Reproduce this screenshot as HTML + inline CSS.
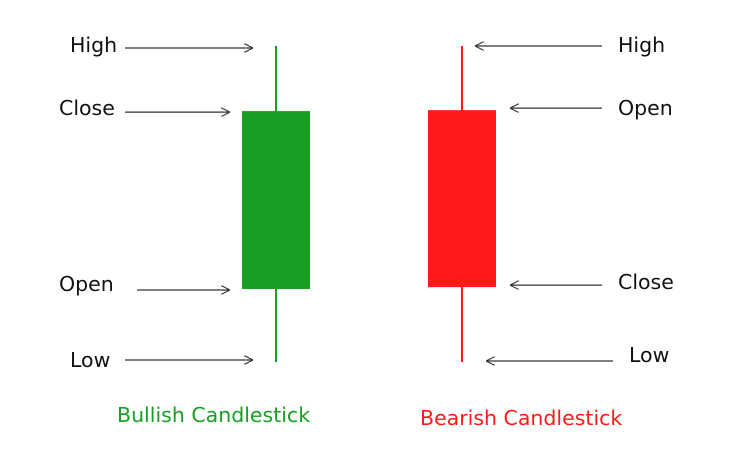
<!DOCTYPE html>
<html><head><meta charset="utf-8"><style>
html,body{margin:0;padding:0;background:#fff;}
svg text{font-family:"DejaVu Sans","Liberation Sans",sans-serif;font-size:20.5px;}
</style></head><body>
<svg id="c" width="752" height="466" xmlns="http://www.w3.org/2000/svg">
<defs>
<marker id="ah" viewBox="0 0 10 10" refX="10" refY="5" markerWidth="9" markerHeight="9" orient="auto-start-reverse" markerUnits="userSpaceOnUse">
<path d="M0,0 L10,5 L0,10" fill="none" stroke="#333" stroke-width="1.2"/>
</marker>
</defs>
<g id="g"></g>
</svg>
<script>
const names = ['bullish', 'bearish'];
const opens = [23.1, 79.7];
const highs = [100, 100];
const lows = [0, 0];
const closes = [79.4, 23.7];
const colors = ['#17a024', '#ff1a1a'];
const captions = ['Bullish Candlestick', 'Bearish Candlestick'];
const y = v => 362 - v * 3.16;
const xc = [276, 462];
const NS = 'http://www.w3.org/2000/svg';
const g = document.getElementById('g');
function mk(t, a){const e=document.createElementNS(NS,t);for(const k in a)e.setAttribute(k,a[k]);g.appendChild(e);return e;}
function arrow(x1,x2,yy,name){
  const l=mk('line',{x1:x1,x2:x2,y1:yy,y2:yy,stroke:'#333','stroke-width':1.2,'marker-end':'url(#ah)'});
  
  
}
function label(x,yy,txt,name,anchor){
  const t=mk('text',{x:x,y:yy+7,'text-anchor':anchor||'start',fill:'#111'});
  t.textContent=txt;
  
  
}
names.forEach((n,i)=>{
  const cx=xc[i];
  const w=mk('line',{x1:cx,x2:cx,y1:y(highs[i]),y2:y(lows[i]),stroke:colors[i],'stroke-width':2});
  
  
  const top=y(Math.max(opens[i],closes[i])), bot=y(Math.min(opens[i],closes[i]));
  const b=mk('rect',{x:cx-34,y:top,width:68,height:bot-top,fill:colors[i]});
  
  
  const c=mk('text',{x:i?420:117,y:i?425:422,fill:colors[i],'font-size':22.5});
  c.textContent=captions[i];
  
  
});
label(70,y(highs[0])-1,'High','bullish-high-label');
arrow(125,253,y(highs[0])+2,'bullish-high-arrow');
label(59,y(closes[0])-3,'Close','bullish-close-label');
arrow(125,230,y(closes[0])+1,'bullish-close-arrow');
label(59,y(opens[0])-5,'Open','bullish-open-label');
arrow(137,230,y(opens[0])+1,'bullish-open-arrow');
label(70,y(lows[0])-2,'Low','bullish-low-label');
arrow(125,253,y(lows[0])-2,'bullish-low-arrow');
label(618,y(highs[1])-1,'High','bearish-high-label');
arrow(602,475,y(highs[1]),'bearish-high-arrow');
label(618,y(opens[1])-2,'Open','bearish-open-label');
arrow(602,510,y(opens[1])-2,'bearish-open-arrow');
label(618,y(closes[1])-5,'Close','bearish-close-label');
arrow(602,510,y(closes[1])-2,'bearish-close-arrow');
label(629,y(lows[1])-7,'Low','bearish-low-label');
arrow(613,486,y(lows[1])-1,'bearish-low-arrow');
</script>
</body></html>
